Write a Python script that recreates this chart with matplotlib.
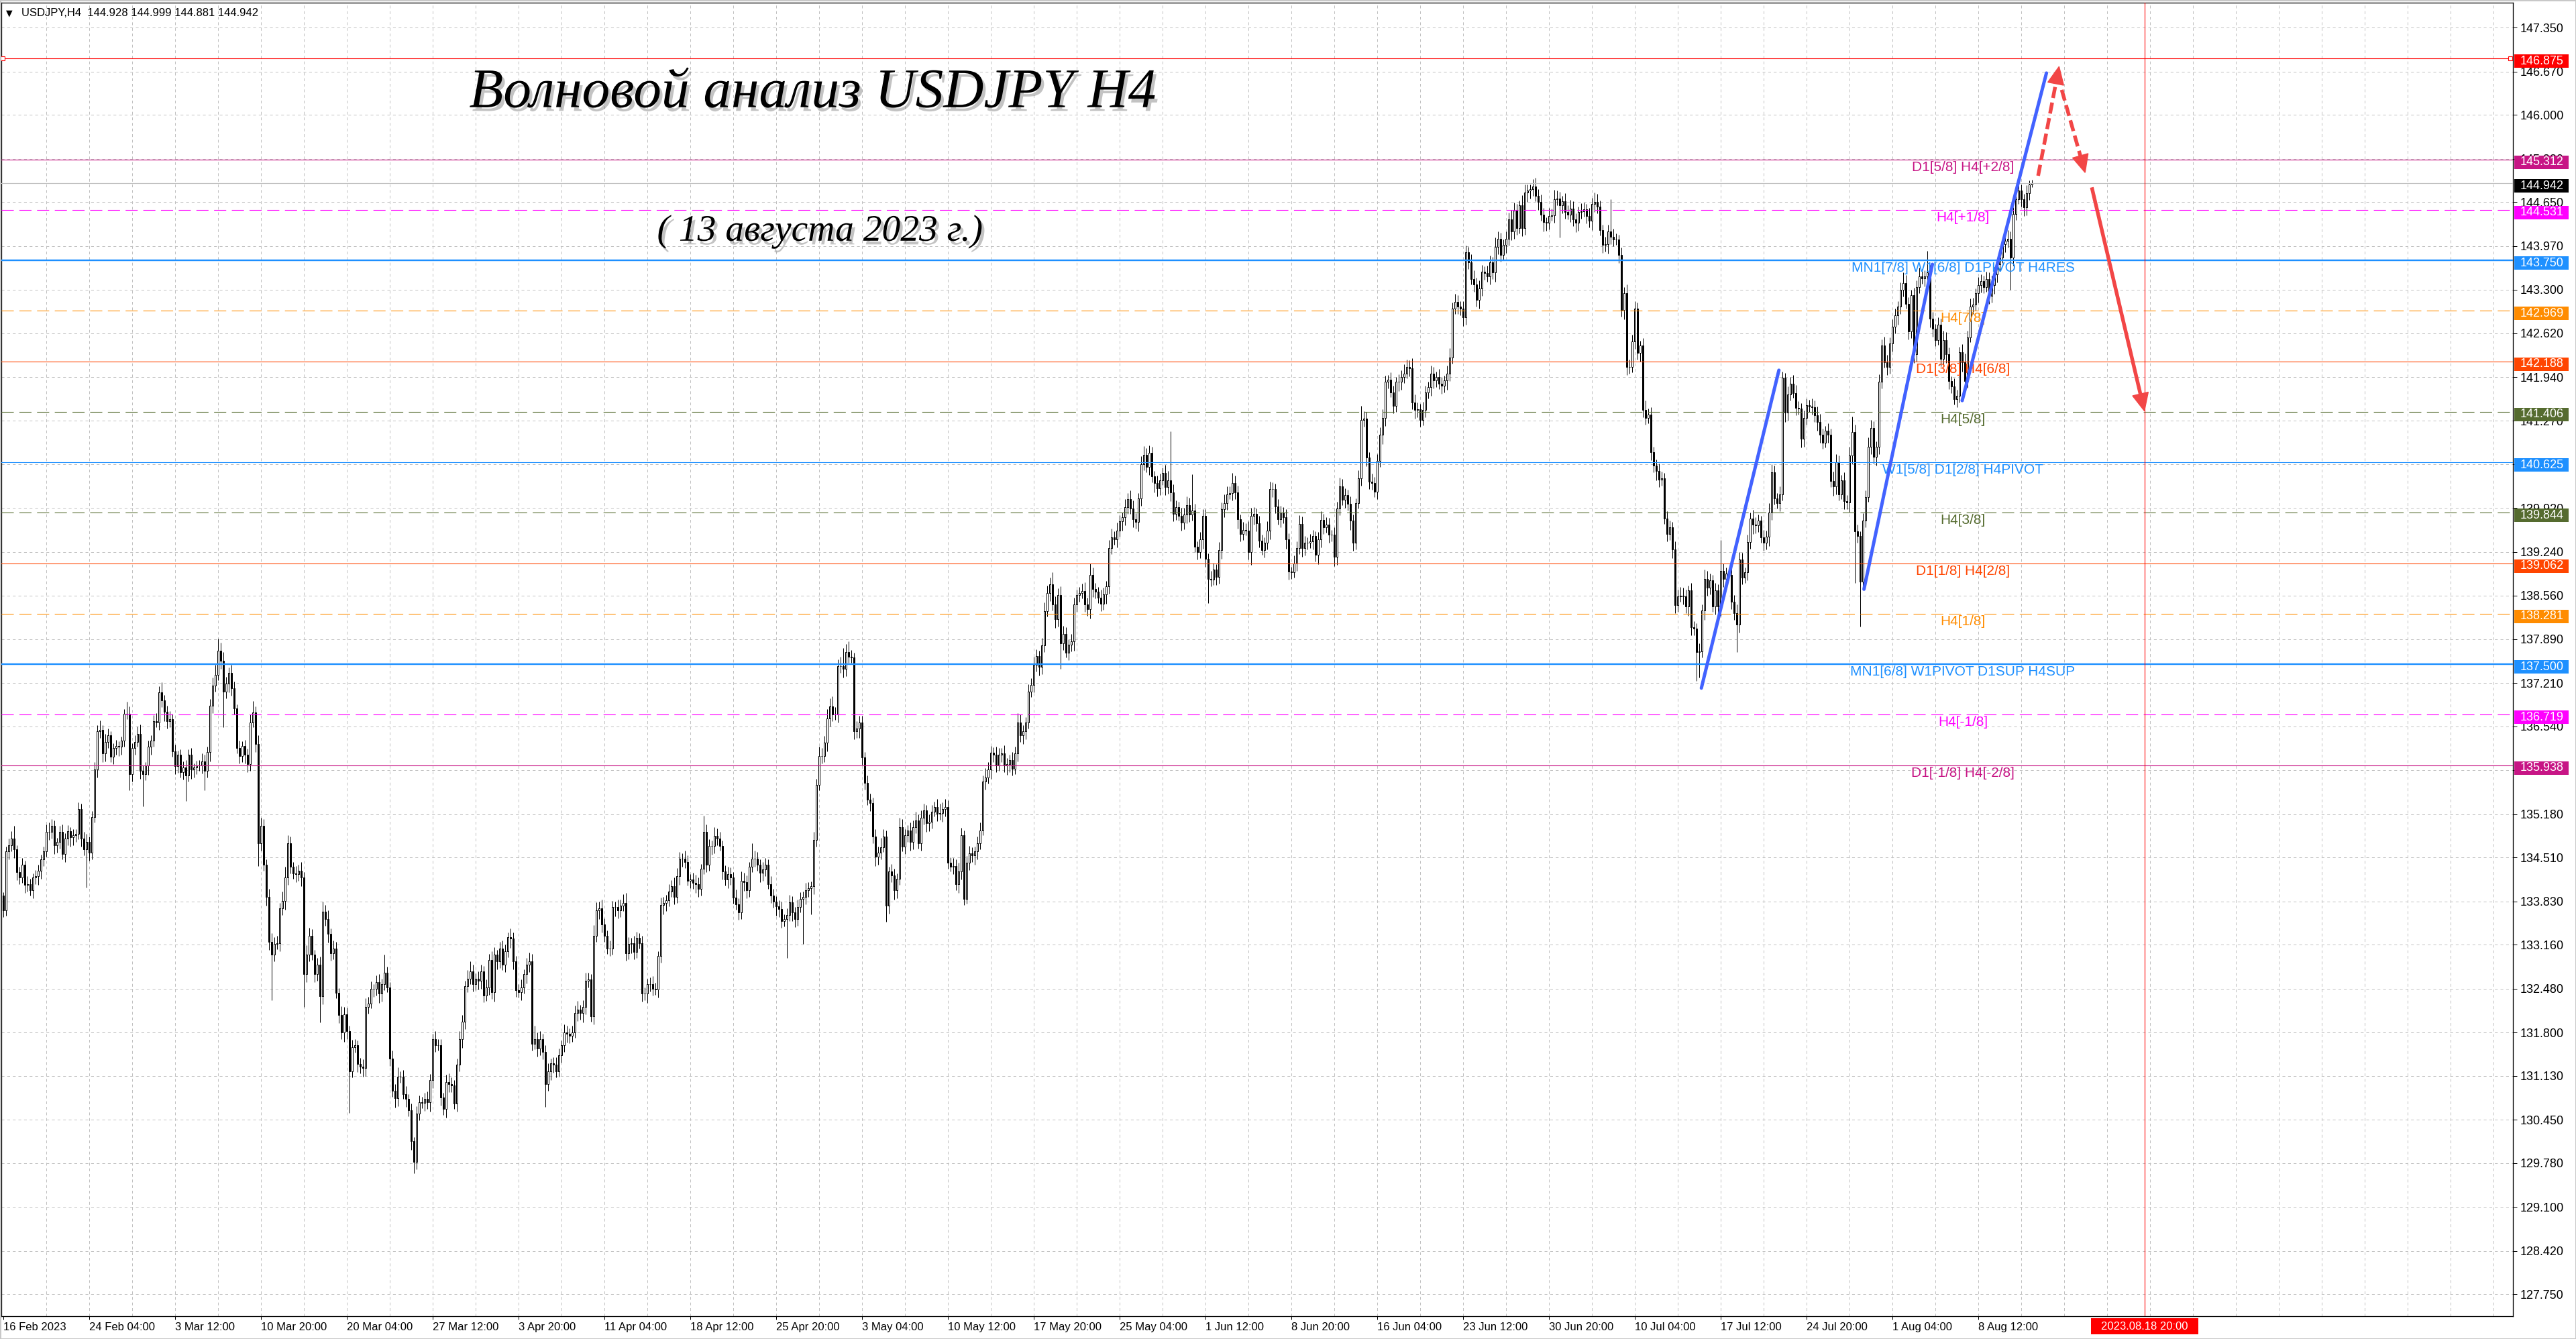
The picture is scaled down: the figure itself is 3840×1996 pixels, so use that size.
import numpy as np
import matplotlib
matplotlib.use('Agg')
import matplotlib.pyplot as plt
import matplotlib.patheffects as pe
import matplotlib.transforms as mtransforms
from matplotlib.patches import Rectangle, Polygon

plt.rcParams['lines.scale_dashes'] = False
plt.rcParams['font.family'] = ['Liberation Sans', 'DejaVu Sans']

# ---------------- data ----------------
# H4 bars, bar 0 = 16 Feb 2023 20:00, last bar = 11 Aug 2023 20:00
first_open = 133.92
closes = [
    133.69, 134.60, 134.70, 134.80, 134.64, 134.28, 134.20, 134.40, 134.08, 134.10, 134.00, 134.20, 134.22, 134.30, 134.48, 134.60,
    134.90, 134.90, 135.00, 134.70, 134.75, 134.90, 134.56, 134.80, 134.92, 134.82, 134.85, 134.87, 135.26, 134.80, 134.64, 134.75,
    134.58, 135.13, 135.87, 136.46, 136.48, 136.12, 136.30, 136.40, 136.07, 136.20, 136.23, 136.22, 136.32, 136.73, 136.73, 135.80,
    136.20, 136.30, 136.42, 135.85, 135.80, 135.93, 136.22, 136.32, 136.62, 136.60, 137.06, 136.94, 136.76, 136.62, 136.65, 136.15,
    135.92, 136.10, 135.83, 135.90, 135.78, 136.10, 135.87, 135.90, 135.93, 135.93, 136.00, 135.85, 136.14, 136.86, 137.17, 137.33,
    137.71, 137.55, 137.07, 137.20, 137.37, 137.13, 136.82, 136.20, 136.08, 136.23, 136.10, 135.95, 136.60, 136.75, 136.26, 134.73,
    135.00, 134.40, 133.90, 133.20, 133.00, 133.17, 133.18, 133.72, 133.84, 134.20, 134.73, 134.36, 134.26, 134.25, 134.30, 134.20,
    132.70, 133.00, 133.30, 133.00, 132.70, 132.85, 132.36, 133.67, 133.55, 133.33, 133.03, 133.10, 132.41, 132.07, 131.80, 132.08,
    131.82, 131.20, 131.57, 131.60, 131.31, 131.27, 131.25, 132.19, 132.25, 132.47, 132.47, 132.58, 132.40, 132.55, 132.72, 132.50,
    131.40, 130.90, 130.78, 131.12, 131.12, 130.85, 130.77, 130.60, 130.12, 129.80, 130.54, 130.72, 130.71, 130.77, 130.72, 131.06,
    131.70, 131.60, 131.60, 130.79, 130.62, 131.03, 131.00, 130.98, 130.70, 131.30, 131.70, 131.97, 132.52, 132.63, 132.75, 132.55,
    132.63, 132.60, 132.75, 132.37, 132.50, 132.92, 132.42, 133.00, 132.90, 133.10, 132.85, 133.06, 133.27, 133.25, 132.90, 132.45,
    132.42, 132.50, 132.70, 132.85, 132.90, 131.62, 131.70, 131.55, 131.70, 131.50, 131.00, 131.20, 131.32, 131.30, 131.20, 131.45,
    131.60, 131.80, 131.78, 131.75, 131.80, 132.10, 132.15, 132.10, 132.20, 132.60, 132.62, 132.05, 133.30, 133.69, 133.72, 133.47,
    133.30, 133.10, 133.10, 133.74, 133.74, 133.69, 133.76, 133.80, 133.03, 133.17, 133.18, 133.05, 133.26, 133.18, 132.40, 132.40,
    132.55, 132.55, 132.47, 132.46, 132.98, 133.77, 133.80, 133.85, 133.98, 134.06, 133.90, 134.22, 134.49, 134.49, 134.44, 134.15,
    134.17, 134.12, 134.10, 134.02, 134.33, 134.90, 134.40, 134.69, 134.69, 134.84, 134.80, 134.69, 134.29, 134.17, 134.25, 134.20,
    133.89, 133.78, 133.66, 134.15, 134.13, 134.00, 134.36, 134.49, 134.49, 134.40, 134.27, 134.32, 134.40, 134.10, 133.92, 133.83,
    133.75, 133.71, 133.52, 133.55, 133.62, 133.81, 133.66, 133.55, 133.74, 133.87, 133.90, 134.00, 134.03, 134.06, 134.78, 135.63,
    136.08, 136.08, 136.29, 136.66, 136.85, 136.72, 136.72, 137.47, 137.47, 137.43, 137.69, 137.62, 137.60, 136.46, 136.50, 136.60,
    136.06, 135.66, 135.40, 135.35, 134.83, 134.52, 134.58, 134.67, 134.83, 133.76, 134.29, 134.23, 134.00, 134.18, 134.98, 134.68,
    134.85, 134.93, 134.75, 134.98, 135.08, 134.73, 135.12, 135.24, 135.04, 135.06, 135.22, 135.29, 135.19, 135.20, 135.26, 135.29,
    134.43, 134.37, 134.38, 134.10, 134.29, 134.85, 133.87, 134.43, 134.57, 134.54, 134.60, 134.73, 134.93, 135.68, 135.75, 135.87,
    136.13, 136.10, 135.93, 136.10, 136.12, 135.93, 135.95, 136.02, 135.88, 136.12, 136.60, 136.40, 136.46, 136.60, 137.07, 137.18,
    137.49, 137.63, 137.46, 137.79, 138.32, 138.60, 138.74, 138.43, 138.20, 138.57, 137.82, 137.97, 137.68, 137.80, 137.85, 138.43,
    138.57, 138.60, 138.63, 138.43, 138.35, 138.88, 138.66, 138.62, 138.53, 138.44, 138.58, 138.71, 139.30, 139.46, 139.43, 139.57,
    139.71, 139.77, 139.93, 140.05, 139.91, 139.74, 139.70, 140.07, 140.60, 140.74, 140.55, 140.77, 140.41, 140.30, 140.22, 140.35,
    140.46, 140.24, 140.35, 140.16, 139.83, 139.93, 139.80, 139.69, 139.82, 139.96, 139.82, 139.88, 139.32, 139.24, 139.43, 139.80,
    139.13, 138.82, 138.81, 138.97, 138.85, 139.27, 139.90, 139.99, 140.13, 140.15, 140.30, 140.16, 139.74, 139.52, 139.58, 139.57,
    139.24, 139.80, 139.83, 139.68, 139.41, 139.27, 139.38, 139.57, 140.21, 140.21, 139.94, 139.74, 139.85, 139.78, 139.43, 138.93,
    138.92, 139.06, 139.30, 139.67, 139.30, 139.38, 139.38, 139.40, 139.48, 139.19, 139.43, 139.73, 139.62, 139.66, 139.50, 139.50,
    139.16, 139.91, 140.25, 140.04, 140.12, 139.98, 139.72, 139.38, 139.99, 140.38, 141.28, 141.30, 140.70, 140.33, 140.30, 140.17,
    140.65, 141.05, 141.31, 141.87, 141.90, 141.71, 141.50, 141.87, 141.87, 141.95, 142.00, 142.10, 142.08, 141.55, 141.44, 141.45,
    141.28, 141.44, 141.71, 141.79, 142.00, 141.89, 141.95, 141.84, 141.81, 141.89, 142.00, 142.25, 143.00, 143.11, 143.04, 143.00,
    142.87, 143.88, 143.72, 143.46, 143.38, 143.14, 143.32, 143.58, 143.55, 143.50, 143.72, 143.56, 143.96, 144.08, 143.83, 143.99,
    144.08, 144.39, 144.20, 144.52, 144.25, 144.60, 144.25, 144.80, 144.83, 144.85, 144.89, 144.75, 144.65, 144.46, 144.34, 144.33,
    144.44, 144.45, 144.70, 144.71, 144.60, 144.67, 144.50, 144.46, 144.55, 144.38, 144.33, 144.50, 144.51, 144.54, 144.44, 144.36,
    144.62, 144.66, 144.58, 144.22, 143.99, 144.00, 144.20, 144.12, 144.07, 144.07, 143.83, 142.98, 143.24, 142.10, 142.10, 142.50,
    143.00, 142.32, 142.43, 141.44, 141.31, 141.36, 140.78, 140.57, 140.49, 140.36, 140.38, 139.75, 139.52, 139.62, 139.28, 138.41,
    138.55, 138.56, 138.55, 138.39, 138.64, 138.07, 138.05, 137.69, 137.70, 138.33, 138.82, 138.68, 138.80, 138.39, 138.64, 138.39,
    138.94, 138.82, 138.90, 138.88, 138.47, 138.29, 138.11, 139.12, 138.84, 138.92, 139.39, 139.75, 139.66, 139.65, 139.72, 139.46,
    139.38, 139.47, 139.85, 140.47, 140.07, 139.99, 140.13, 141.93, 141.39, 141.68, 141.84, 141.70, 141.47, 141.46, 140.99, 141.31,
    141.51, 141.49, 141.48, 141.35, 141.25, 141.05, 140.93, 141.11, 141.05, 140.34, 140.25, 140.63, 140.13, 140.35, 140.02, 140.00,
    140.73, 141.09, 139.56, 139.48, 138.78, 139.72, 140.09, 140.87, 141.16, 140.71, 140.87, 141.87, 142.43, 142.17, 142.10, 142.46,
    142.72, 142.90, 143.04, 143.29, 143.40, 143.08, 142.65, 143.21, 142.30, 143.34, 143.50, 143.47, 143.50, 143.56, 142.85, 142.69,
    142.52, 142.75, 142.23, 142.52, 142.30, 141.88, 141.80, 141.60, 141.65, 142.33, 142.17, 141.88, 142.56, 143.04, 143.07, 143.24,
    143.37, 143.43, 143.34, 143.46, 143.20, 143.37, 143.53, 143.69, 143.79, 144.00, 144.05, 144.08, 143.79, 144.47, 144.70, 144.83,
    144.70, 144.57, 144.79, 144.93, 144.942,
]
# wick lengths beyond the body, in pips (0.01)
upper_wick = [
    5, 8, 10, 12, 20, 6, 8, 10, 6, 12, 8, 6, 9, 10, 7, 8, 12, 15, 10, 8, 6, 10, 12, 8, 9, 6, 10, 8, 10, 8, 10, 12,
    8, 10, 12, 10, 15, 8, 12, 10, 6, 8, 10, 8, 6, 8, 19, 12, 8, 10, 12, 15, 8, 6, 10, 8, 9, 12, 10, 16, 8, 10, 12, 8,
    10, 6, 8, 10, 12, 8, 10, 6, 8, 9, 12, 10, 8, 10, 12, 16, 19, 12, 14, 10, 8, 12, 10, 6, 12, 8, 10, 9, 12, 18, 10, 14,
    12, 10, 8, 12, 14, 10, 12, 8, 14, 16, 12, 10, 8, 12, 10, 14, 8, 15, 12, 10, 8, 10, 12, 15, 10, 14, 8, 12, 10, 8, 14, 12,
    10, 8, 12, 10, 8, 10, 12, 14, 10, 12, 8, 10, 12, 8, 28, 10, 8, 12, 10, 14, 8, 10, 12, 8, 10, 6, 12, 10, 8, 10, 12, 10,
    8, 12, 10, 10, 8, 12, 14, 10, 8, 10, 12, 10, 8, 14, 15, 10, 8, 12, 10, 8, 12, 10, 14, 12, 8, 10, 12, 10, 8, 14, 10, 8,
    10, 12, 8, 10, 14, 12, 20, 10, 12, 8, 10, 12, 8, 10, 12, 10, 8, 12, 10, 8, 10, 12, 14, 8, 10, 12, 10, 8, 16, 12, 10, 14,
    10, 8, 12, 10, 8, 12, 10, 14, 16, 10, 8, 12, 10, 8, 12, 10, 8, 10, 12, 10, 8, 12, 10, 8, 12, 10, 14, 12, 10, 8, 12, 10,
    8, 10, 12, 10, 8, 25, 12, 10, 8, 14, 12, 10, 8, 10, 12, 10, 8, 12, 10, 14, 12, 10, 8, 24, 12, 10, 8, 12, 10, 8, 12, 10,
    8, 10, 12, 8, 10, 12, 10, 8, 12, 10, 8, 12, 10, 8, 12, 10, 14, 12, 10, 14, 12, 15, 12, 10, 14, 28, 12, 16, 10, 8, 12, 10,
    10, 8, 12, 10, 8, 12, 10, 14, 12, 10, 8, 12, 10, 8, 14, 12, 10, 8, 12, 10, 14, 10, 12, 10, 8, 12, 10, 8, 12, 14, 10, 12,
    10, 8, 12, 10, 14, 12, 8, 10, 12, 10, 8, 10, 12, 10, 14, 12, 10, 8, 12, 10, 8, 12, 10, 8, 12, 10, 14, 12, 10, 8, 12, 10,
    12, 10, 8, 12, 14, 12, 10, 18, 12, 10, 14, 12, 10, 8, 12, 10, 8, 10, 12, 14, 10, 18, 12, 10, 8, 12, 10, 8, 12, 14, 10, 12,
    10, 8, 12, 10, 14, 12, 10, 8, 12, 14, 10, 12, 10, 8, 12, 10, 8, 12, 14, 75, 12, 10, 8, 12, 10, 14, 12, 56, 10, 8, 12, 10,
    10, 8, 12, 10, 8, 12, 10, 14, 12, 10, 16, 12, 10, 8, 12, 10, 14, 12, 10, 8, 12, 10, 8, 14, 12, 10, 8, 12, 10, 8, 12, 10,
    8, 12, 10, 14, 12, 10, 8, 12, 10, 8, 12, 14, 10, 12, 10, 8, 12, 10, 14, 12, 10, 8, 12, 10, 8, 12, 22, 12, 10, 8, 12, 10,
    10, 12, 14, 10, 8, 12, 10, 8, 12, 10, 14, 12, 10, 16, 12, 10, 8, 12, 10, 8, 12, 10, 8, 12, 10, 8, 12, 14, 10, 12, 10, 8,
    12, 10, 8, 12, 14, 10, 12, 10, 8, 12, 10, 8, 14, 12, 10, 8, 12, 10, 14, 12, 10, 8, 16, 12, 10, 8, 12, 14, 10, 12, 10, 8,
    12, 10, 14, 12, 10, 8, 12, 10, 14, 12, 10, 8, 12, 10, 8, 12, 10, 14, 12, 10, 8, 12, 10, 50, 12, 10, 8, 12, 10, 14, 12, 10,
    12, 10, 8, 12, 14, 10, 12, 8, 10, 12, 10, 8, 12, 10, 8, 12, 10, 14, 12, 10, 8, 12, 10, 8, 12, 10, 14, 12, 10, 8, 12, 10,
    48, 12, 10, 8, 12, 10, 14, 12, 10, 8, 12, 10, 14, 12, 10, 8, 12, 10, 14, 12, 10, 8, 12, 10, 8, 12, 10, 14, 12, 10, 8, 12,
    10, 8, 12, 10, 14, 12, 10, 8, 12, 10, 14, 12, 10, 8, 12, 10, 14, 24, 12, 10, 8, 12, 10, 14, 12, 10, 8, 12, 10, 14, 12, 10,
    12, 10, 8, 12, 16, 12, 10, 8, 12, 10, 14, 12, 10, 34, 12, 10, 8, 12, 10, 14, 12, 10, 8, 12, 10, 8, 12, 14, 10, 12, 10, 8,
    12, 10, 8, 12, 10, 14, 12, 10, 8, 12, 10, 14, 12, 10, 8, 12, 10, 8, 12, 6, 6,
]
lower_wick = [
    10, 8, 12, 10, 14, 12, 10, 8, 12, 10, 8, 12, 10, 14, 12, 10, 8, 12, 10, 14, 12, 10, 8, 12, 10, 14, 12, 10, 8, 12, 10, 60,
    12, 10, 8, 12, 10, 14, 12, 10, 8, 12, 10, 14, 12, 10, 8, 25, 12, 10, 8, 12, 50, 10, 14, 12, 10, 8, 12, 10, 14, 12, 10, 8,
    12, 10, 8, 12, 40, 10, 14, 12, 10, 8, 12, 30, 10, 14, 12, 10, 8, 12, 55, 10, 14, 12, 10, 8, 12, 10, 14, 12, 10, 8, 12, 35,
    12, 10, 14, 12, 70, 10, 8, 12, 10, 14, 12, 10, 8, 12, 10, 14, 50, 12, 10, 8, 12, 10, 40, 12, 10, 14, 12, 10, 8, 12, 10, 14,
    12, 65, 10, 8, 12, 10, 14, 12, 10, 8, 12, 10, 14, 12, 10, 8, 12, 10, 14, 12, 10, 8, 12, 10, 14, 18, 12, 10, 8, 12, 10, 14,
    12, 10, 8, 12, 10, 14, 12, 10, 8, 12, 10, 14, 12, 10, 8, 12, 10, 14, 12, 10, 8, 12, 10, 14, 12, 10, 8, 12, 10, 14, 12, 10,
    8, 12, 10, 14, 12, 10, 8, 12, 10, 12, 35, 10, 14, 12, 10, 8, 12, 10, 14, 12, 10, 8, 12, 10, 14, 12, 10, 8, 12, 10, 14, 12,
    10, 8, 12, 10, 14, 12, 10, 8, 12, 10, 14, 12, 10, 8, 12, 10, 14, 12, 10, 8, 12, 10, 14, 12, 10, 8, 12, 10, 14, 12, 10, 8,
    12, 10, 14, 12, 10, 8, 12, 10, 14, 12, 10, 8, 12, 10, 14, 12, 10, 8, 12, 10, 14, 12, 10, 8, 12, 10, 14, 12, 10, 8, 12, 10,
    14, 12, 10, 8, 60, 10, 14, 12, 10, 8, 70, 12, 10, 40, 12, 10, 8, 12, 10, 14, 12, 10, 8, 12, 10, 14, 12, 10, 8, 12, 10, 14,
    12, 10, 8, 12, 10, 14, 12, 10, 8, 25, 12, 10, 14, 12, 10, 8, 12, 10, 14, 12, 10, 8, 12, 10, 14, 12, 10, 8, 12, 10, 14, 12,
    10, 8, 12, 10, 14, 12, 10, 8, 12, 10, 14, 12, 10, 8, 12, 10, 14, 12, 10, 8, 12, 10, 14, 12, 10, 8, 12, 10, 14, 12, 10, 8,
    12, 10, 14, 12, 10, 8, 12, 10, 14, 12, 39, 10, 8, 12, 10, 14, 12, 10, 8, 12, 10, 14, 12, 10, 8, 12, 10, 14, 12, 10, 8, 12,
    10, 14, 12, 10, 8, 12, 10, 14, 12, 10, 8, 12, 10, 14, 12, 10, 8, 12, 10, 14, 12, 10, 8, 12, 10, 14, 12, 10, 8, 12, 10, 14,
    12, 37, 10, 8, 12, 10, 14, 12, 10, 8, 12, 10, 14, 12, 10, 8, 12, 20, 14, 12, 10, 8, 12, 10, 14, 12, 10, 8, 12, 10, 14, 12,
    10, 8, 12, 10, 14, 12, 10, 8, 12, 10, 14, 12, 10, 8, 12, 10, 14, 12, 10, 8, 12, 10, 14, 12, 10, 8, 12, 10, 14, 12, 10, 8,
    12, 10, 14, 12, 10, 8, 12, 10, 14, 12, 10, 8, 12, 10, 14, 12, 10, 8, 12, 10, 14, 12, 10, 8, 12, 10, 14, 12, 10, 8, 12, 10,
    14, 12, 10, 8, 12, 10, 14, 12, 10, 8, 12, 10, 14, 12, 10, 8, 12, 10, 14, 12, 10, 8, 12, 10, 14, 12, 10, 8, 12, 10, 14, 12,
    10, 8, 12, 10, 50, 12, 10, 8, 12, 10, 14, 12, 10, 8, 12, 10, 14, 12, 10, 8, 12, 10, 14, 12, 10, 8, 12, 10, 14, 12, 10, 8,
    12, 10, 14, 12, 10, 8, 12, 10, 14, 12, 10, 8, 12, 10, 14, 12, 10, 8, 12, 10, 14, 12, 10, 45, 40, 10, 14, 12, 10, 8, 12, 10,
    14, 12, 10, 8, 12, 10, 42, 12, 10, 8, 12, 10, 14, 12, 10, 8, 12, 10, 14, 12, 10, 8, 12, 10, 14, 12, 10, 8, 12, 10, 14, 12,
    10, 8, 12, 10, 14, 12, 10, 8, 12, 10, 14, 12, 10, 8, 12, 10, 14, 12, 80, 10, 70, 12, 10, 8, 12, 10, 14, 12, 10, 8, 12, 10,
    12, 10, 14, 12, 10, 8, 12, 10, 14, 12, 10, 8, 12, 10, 14, 12, 10, 8, 12, 10, 14, 12, 10, 8, 12, 10, 14, 12, 10, 8, 12, 10,
    14, 12, 10, 8, 12, 10, 14, 12, 10, 8, 12, 10, 50, 12, 10, 8, 12, 13, 12, 10, 5,
]

x_labels = ['16 Feb 2023', '24 Feb 04:00', '3 Mar 12:00', '10 Mar 20:00', '20 Mar 04:00', '27 Mar 12:00',
            '3 Apr 20:00', '11 Apr 04:00', '18 Apr 12:00', '25 Apr 20:00', '3 May 04:00', '10 May 12:00',
            '17 May 20:00', '25 May 04:00', '1 Jun 12:00', '8 Jun 20:00', '16 Jun 04:00', '23 Jun 12:00',
            '30 Jun 20:00', '10 Jul 04:00', '17 Jul 12:00', '24 Jul 20:00', '1 Aug 04:00', '8 Aug 12:00']
bars_per_label = 32
y_ticks = [147.350, 146.670, 146.000, 145.320, 144.650, 143.970, 143.300, 142.620, 141.940, 141.270,
           140.590, 139.920, 139.240, 138.560, 137.890, 137.210, 136.540, 135.860, 135.180, 134.510,
           133.830, 133.160, 132.480, 131.800, 131.130, 130.450, 129.780, 129.100, 128.420, 127.750]

levels = [146.875, 145.312, 144.531, 143.750, 142.969, 142.188, 141.406,
          140.625, 139.844, 139.062, 138.281, 137.500, 136.719, 135.938]
level_names = ['', 'D1[5/8] H4[+2/8]', 'H4[+1/8]', 'MN1[7/8] W1[6/8] D1PIVOT H4RES', 'H4[7/8]',
               'D1[3/8] H4[6/8]', 'H4[5/8]', 'W1[5/8] D1[2/8] H4PIVOT', 'H4[3/8]', 'D1[1/8] H4[2/8]',
               'H4[1/8]', 'MN1[6/8] W1PIVOT D1SUP H4SUP', 'H4[-1/8]', 'D1[-1/8] H4[-2/8]']
level_colors = ['red', 'mediumvioletred', 'magenta', 'dodgerblue', 'darkorange', 'orangered', 'darkolivegreen',
                'dodgerblue', 'darkolivegreen', 'orangered', 'darkorange', 'dodgerblue', 'magenta', 'mediumvioletred']
level_dashed = [False, False, True, False, True, False, True, False, True, False, True, False, True, False]
level_thick = [False, False, False, True, False, False, False, False, False, False, False, True, False, False]
last_price = 144.942
header = 'USDJPY,H4  144.928 144.999 144.881 144.942'
future_bar = 798
future_label = '2023.08.18 20:00'

wave_from = [(632.8, 137.13), (693.4, 138.66), (730.0, 141.58)]
wave_to = [(661.7, 142.05), (718.9, 143.69), (761.4, 146.65)]
arrow_from = [(758.3, 145.06), (767.1, 146.39), (778.3, 144.88)]
arrow_to = [(766.1, 146.75), (775.8, 145.11), (797.9, 141.42)]
arrow_dashed = [True, True, False]

title = 'Волновой анализ USDJPY H4'
subtitle = '( 13 августа 2023 г.)'

# ---------------- figure ----------------
W, H = 3840, 1996
PX = 0.72  # points per pixel at dpi 100
fig = plt.figure(figsize=(W / 100, H / 100), dpi=100, facecolor='white')
ax = fig.add_axes([2 / W, 1 - 1962 / H, 3744 / W, 1958 / H])
ax.set_xlim(-0.75, 935.25)
ax.set_ylim(127.408, 147.739)
ax.set_facecolor('white')
py = 1958 / (147.739 - 127.408)  # pixels per yen

grid_kw = dict(color='#c0c0c0', lw=PX, ls=(0, (3, 3)), zorder=0.5)
for v in y_ticks:
    ax.axhline(v, **grid_kw)
for gx in range(16, 936, 16):
    ax.axvline(gx, **grid_kw)

# candles
c = np.array(closes)
o = np.r_[first_open, c[:-1]]
hi = np.maximum(o, c) + np.array(upper_wick) / 100
lo = np.minimum(o, c) - np.array(lower_wick) / 100
xs = np.arange(len(c))
bull = c >= o
ax.vlines(xs, lo, hi, color='black', lw=PX, zorder=2)
ax.bar(xs[bull], c[bull] - o[bull], bottom=o[bull], width=0.5, facecolor='white',
       edgecolor='black', lw=PX, zorder=2.5)
ax.bar(xs[~bull], o[~bull] - c[~bull], bottom=c[~bull], width=0.5, facecolor='black',
       edgecolor='black', lw=PX, zorder=2.5)

# Murrey levels
for v, name, col, dsh, thick in zip(levels, level_names, level_colors, level_dashed, level_thick):
    ax.axhline(v, color=col, lw=(2.4 if thick else 1.1) * PX,
               ls=(0, (13, 6)) if dsh else '-', zorder=3)
    if name:
        ax.annotate(name, (730.25, v), xytext=(0, -1.5), textcoords='offset points',
                    ha='center', va='top', color=col, fontsize=15, zorder=4)
ax.axhline(last_price, color='#c0c0c0', lw=1.2 * PX, zorder=3)
ax.plot([-0.2, 934.2], [levels[0]] * 2, 's', mfc='white', mec='red', ms=4, mew=0.8,
        zorder=4, clip_on=False)
ax.axvline(future_bar, color='red', lw=1.1 * PX, zorder=3)

# wave lines
for (x0, y0), (x1, y1) in zip(wave_from, wave_to):
    ax.plot([x0, x1], [y0, y1], color='#4262ff', lw=5 * PX, solid_capstyle='round', zorder=6)


def head(x0, y0, x1, y1, col, length=26, width=24):
    p0 = ax.transData.transform((x0, y0))
    p1 = ax.transData.transform((x1, y1))
    d = (p1 - p0) / np.hypot(*(p1 - p0))
    n = np.array([-d[1], d[0]])
    base = p1 - d * length
    pts = np.array([p1, base + n * width / 2, base - n * width / 2])
    ax.add_patch(Polygon(ax.transData.inverted().transform(pts), closed=True,
                         facecolor=col, edgecolor=col, zorder=7))
    return ax.transData.inverted().transform(base)


red = '#f24646'
for (x0, y0), (x1, y1), dsh in zip(arrow_from, arrow_to, arrow_dashed):
    bx, by = head(x0, y0, x1, y1, red)
    ax.plot([x0, bx], [y0, by], color=red, lw=5.5 * PX,
            ls=(0, (12, 5)) if dsh else '-', solid_capstyle='butt',
            dash_capstyle='butt', zorder=7)

# axes styling
for s in ax.spines.values():
    s.set_color('black')
    s.set_linewidth(1.3 * PX)
ax.yaxis.tick_right()
ax.set_yticks(y_ticks)
ax.set_yticklabels([f'{v:.3f}' for v in y_ticks])
ax.tick_params(axis='y', length=6 * PX, width=PX, pad=5 * PX, labelsize=13, colors='black')
ax.set_xticks(range(0, len(x_labels) * bars_per_label, bars_per_label))
ax.set_xticklabels(x_labels)
for lab in ax.get_xticklabels():
    lab.set_ha('left')
ax.tick_params(axis='x', length=5 * PX, width=PX, pad=4 * PX, labelsize=12, colors='black')

# price boxes on the right scale
blend = mtransforms.blended_transform_factory(fig.transFigure, ax.transData)
box_h = 20 / py
shift = 4 / py
box_vals = levels[:2] + [last_price] + levels[2:]
box_cols = level_colors[:2] + ['black'] + level_colors[2:]
for v, col in zip(box_vals, box_cols):
    fig.add_artist(Rectangle((3748 / W, v - shift - box_h / 2), 81 / W, box_h,
                             transform=blend, facecolor=col, edgecolor='none', zorder=5))
    fig.text(3757 / W, v - shift, f'{v:.3f}', transform=blend, color='white',
             ha='left', va='center', fontsize=13, zorder=6)

# future time box on the bottom scale
blend_x = mtransforms.blended_transform_factory(ax.transData, fig.transFigure)
fig.add_artist(Rectangle((future_bar - 20, 1 - 1989 / H), 40, 24 / H, transform=blend_x,
                         facecolor='red', edgecolor='none', zorder=5))
fig.text(future_bar, 1 - 1977 / H, future_label, transform=blend_x, color='white',
         ha='center', va='center', fontsize=12, zorder=6)

# header and titles
fig.text(9 / W, 1 - 20 / H, '\u25bc', fontsize=9, va='center', family=['DejaVu Sans'])
fig.text(32 / W, 1 - 20 / H, header, fontsize=12, va='center')
shadow = [pe.SimplePatchShadow(offset=(3, -4), shadow_rgbFace='#555555', alpha=0.35), pe.Normal()]
fig.text(1212 / W, 1 - 140 / H, title, fontsize=60, ha='center', va='center',
         family=['Liberation Serif', 'DejaVu Serif'], style='italic', path_effects=shadow)
fig.text(1222 / W, 1 - 345 / H, subtitle, fontsize=40, ha='center', va='center',
         family=['Liberation Serif', 'DejaVu Serif'], style='italic', path_effects=shadow)

fig.add_artist(Rectangle((0, 0), 1, 1, transform=fig.transFigure, fill=False,
                         edgecolor='#c8c8c8', lw=3 * PX, zorder=10))

fig.savefig('out.png', dpi=100, facecolor='white')
